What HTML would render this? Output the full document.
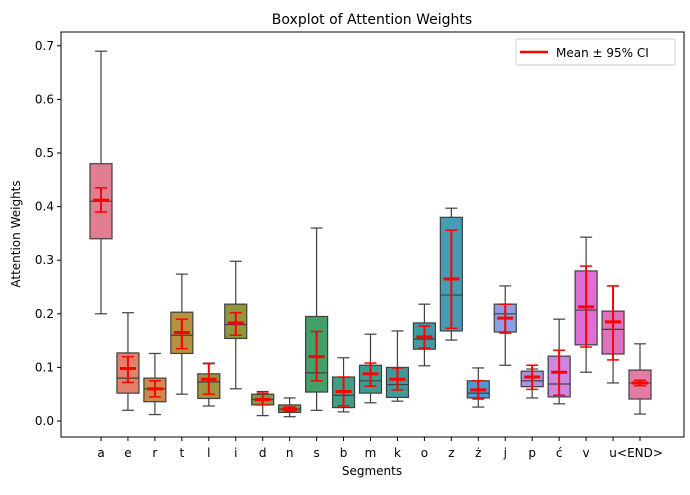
<!DOCTYPE html>
<html><head><meta charset="utf-8"><style>
body{margin:0;background:#fff;font-family:"Liberation Sans","DejaVu Sans",sans-serif;}
svg text{font-family:"DejaVu Sans","Liberation Sans",sans-serif;}
</style></head><body>
<svg id="chart" width="690" height="490" xmlns="http://www.w3.org/2000/svg">
<rect width="690" height="490" fill="#fff"/>
<g id="plot"></g>
<rect x="61" y="32" width="623" height="405" fill="none" stroke="#000" stroke-width="1"/>
<text x="372" y="24" font-size="14" text-anchor="middle">Boxplot of Attention Weights</text>
<text x="372" y="475" font-size="12" text-anchor="middle">Segments</text>
<text x="20" y="234" font-size="12" text-anchor="middle" transform="rotate(-90 20 234)">Attention Weights</text>
<g>
<rect x="516" y="39" width="159" height="26" rx="2" fill="#fff" stroke="#ccc"/>
<line x1="520" y1="52" x2="548" y2="52" stroke="red" stroke-width="2.5"/>
<text x="556" y="57" font-size="12">Mean ± 95% CI</text>
</g>
</svg>
<script>
const categories=["a","e","r","t","l","i","d","n","s","b","m","k","o","z","ż","j","p","ć","v","u","<END>"];
const whisLo=[0.20,0.02,0.012,0.05,0.028,0.06,0.01,0.008,0.02,0.017,0.034,0.037,0.103,0.151,0.026,0.104,0.043,0.032,0.091,0.071,0.013];
const q1=[0.34,0.052,0.036,0.126,0.042,0.154,0.03,0.016,0.054,0.025,0.052,0.044,0.134,0.168,0.043,0.166,0.064,0.045,0.142,0.125,0.041];
const medians=[0.41,0.08,0.06,0.16,0.073,0.18,0.04,0.022,0.09,0.048,0.075,0.068,0.153,0.235,0.052,0.2,0.075,0.069,0.207,0.171,0.071];
const q3=[0.48,0.127,0.08,0.203,0.088,0.218,0.05,0.03,0.195,0.082,0.104,0.1,0.183,0.38,0.075,0.218,0.093,0.121,0.28,0.205,0.095];
const whisHi=[0.69,0.202,0.126,0.274,0.108,0.298,0.055,0.043,0.36,0.118,0.162,0.168,0.218,0.397,0.099,0.252,0.097,0.19,0.343,0.252,0.144];
const means=[0.412,0.098,0.06,0.165,0.078,0.183,0.04,0.022,0.12,0.055,0.088,0.078,0.157,0.265,0.058,0.192,0.082,0.091,0.213,0.185,0.071];
const ciLo=[0.39,0.072,0.045,0.135,0.05,0.16,0.03,0.018,0.075,0.028,0.065,0.058,0.136,0.173,0.041,0.164,0.059,0.048,0.138,0.114,0.066];
const ciHi=[0.435,0.12,0.075,0.19,0.107,0.202,0.052,0.026,0.167,0.082,0.108,0.099,0.177,0.356,0.075,0.218,0.104,0.132,0.289,0.252,0.076];
const yTicks=[0,0.1,0.2,0.3,0.4,0.5,0.6,0.7];
const colors=["#e17f90","#e0826c","#cf8a4b","#b8913f","#a0953f","#8f963f","#7e9a43","#6a9e49","#42a069","#3f9f85","#3f9c91","#40999a","#4199a3","#469cb5","#4c9bd4","#8e9fe1","#b08ee0","#cc87e1","#dd6fd6","#df72bb","#e17ca3"];
const NS="http://www.w3.org/2000/svg";
const g=document.getElementById('plot');
const y=v=>421-v*536;
const x=i=>101+i*26.95;
function el(t,a){const e=document.createElementNS(NS,t);for(const k in a)e.setAttribute(k,a[k]);g.appendChild(e);return e;}
yTicks.forEach(t=>{
 const tk=el('line',{x1:57,x2:61,y1:y(t),y2:y(t),stroke:'#000'});
 
 
 const tx=el('text',{x:54,y:y(t)+4,'font-size':12,'text-anchor':'end'});
 tx.textContent=t.toFixed(1);
 
 
});
categories.forEach((c,i)=>{
 const cx=x(i),w=22,s='#3f3f3f';
 const tk=el('line',{x1:cx,x2:cx,y1:437,y2:441,stroke:'#000'});
 
 
 const tx=el('text',{x:cx,y:457,'font-size':12,'text-anchor':'middle'});
 tx.textContent=c;
 
 
 const wk=el('line',{x1:cx,x2:cx,y1:y(whisLo[i]),y2:y(whisHi[i]),stroke:s,'stroke-width':1.2});
 
 
 [whisLo[i],whisHi[i]].forEach(v=>{const cap=el('line',{x1:cx-6,x2:cx+6,y1:y(v),y2:y(v),stroke:s,'stroke-width':1.2});
  
  });
 const b=el('rect',{x:cx-w/2,y:y(q3[i]),width:w,height:y(q1[i])-y(q3[i]),fill:colors[i],stroke:s,'stroke-width':1.2});
 
 
 const m=el('line',{x1:cx-w/2,x2:cx+w/2,y1:y(medians[i]),y2:y(medians[i]),stroke:s,'stroke-width':1.2});
 
 
 const ci=el('line',{x1:cx,x2:cx,y1:y(ciLo[i]),y2:y(ciHi[i]),stroke:'red','stroke-width':2});
 
 
 [ciLo[i],ciHi[i]].forEach(v=>{const cap=el('line',{x1:cx-6,x2:cx+6,y1:y(v),y2:y(v),stroke:'red','stroke-width':1.5});
  
  });
 const mn=el('line',{x1:cx-8,x2:cx+8,y1:y(means[i]),y2:y(means[i]),stroke:'red','stroke-width':3});
 
 
});
</script>
</body></html>
